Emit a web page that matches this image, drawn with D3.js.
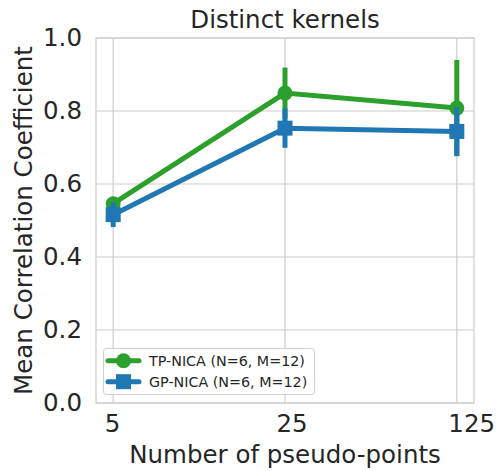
<!DOCTYPE html>
<html><head><meta charset="utf-8">
<script src="https://cdn.jsdelivr.net/npm/d3@7"></script>
<style>body{margin:0;background:#fff}</style>
</head><body>
<script>
const categories = [5, 25, 125];
const tpMean = [0.546, 0.849, 0.808];
const tpLo = [0.530, 0.779, 0.676];
const tpHi = [0.562, 0.919, 0.940];
const gpMean = [0.516, 0.753, 0.744];
const gpLo = [0.482, 0.699, 0.677];
const gpHi = [0.550, 0.807, 0.811];
const yTicks = [0, 0.2, 0.4, 0.6, 0.8, 1.0];
const seriesNames = ["TP-NICA (N=6, M=12)", "GP-NICA (N=6, M=12)"];

const W = 498, H = 471;
const L = 96, R = 474, T = 38, B = 403;
const svg = d3.select("body").append("svg").attr("width", W).attr("height", H)
  .style("font-family", "DejaVu Sans");

const lp = Math.log(5)*0.1;
const x = d3.scaleLog().domain([5/Math.exp(lp), 125*Math.exp(lp)]).range([L, R]);
const y = d3.scaleLinear().domain([0, 1]).range([B, T]);

const grid = "#cccccc", txt = "#262626";
const fs = "24.5px";
// grid
svg.append("g").selectAll("line").data(yTicks).join("line")
  .attr("x1", L).attr("x2", R).attr("y1", d=>y(d)).attr("y2", d=>y(d))
  .attr("stroke", grid).attr("stroke-width", 1.2);
svg.append("g").selectAll("line").data(categories).join("line")
  .attr("y1", T).attr("y2", B).attr("x1", d=>x(d)).attr("x2", d=>x(d))
  .attr("stroke", grid).attr("stroke-width", 1.2);
svg.append("rect").attr("x", L).attr("y", T).attr("width", R-L).attr("height", B-T)
  .attr("fill", "none").attr("stroke", grid).attr("stroke-width", 1.2);

// axes
const yAx = svg.append("g").attr("transform", `translate(${L},0)`)
  .call(d3.axisLeft(y).tickValues(yTicks).tickFormat(d3.format(".1f")).tickSize(0).tickPadding(14));
const xAx = svg.append("g").attr("transform", `translate(0,${B})`)
  .call(d3.axisBottom(x).tickValues(categories).tickFormat(d=>String(d)).tickSize(0).tickPadding(12));
[yAx, xAx].forEach(g => {
  g.select(".domain").remove();
  g.selectAll("text").attr("fill", txt).style("font-size", fs).style("font-family", "DejaVu Sans");
});
// x tick labels in the reference start just left of each gridline
xAx.selectAll("text").attr("text-anchor", "start").attr("x", -9);

svg.append("text").attr("x", (L+R)/2).attr("y", 27.5).attr("text-anchor", "middle")
  .attr("fill", txt).style("font-size", fs).text("Distinct kernels");
svg.append("text").attr("x", (L+R)/2).attr("y", 463).attr("text-anchor", "middle")
  .attr("fill", txt).style("font-size", fs).text("Number of pseudo-points");
svg.append("text").attr("transform", `translate(32,${(T+B)/2}) rotate(-90)`).attr("text-anchor", "middle")
  .attr("fill", txt).style("font-size", fs).text("Mean Correlation Coefficient");

const green = "#2ca02c", blue = "#1f77b4";
const line = d3.line().x(d=>x(d[0])).y(d=>y(d[1]));

function drawSeries(mean, lo, hi, color, marker) {
  const g = svg.append("g");
  g.selectAll("line.err").data(categories).join("line").attr("class","err")
    .attr("x1", d=>x(d)).attr("x2", d=>x(d))
    .attr("y1", (d,i)=>y(lo[i])).attr("y2", (d,i)=>y(hi[i]))
    .attr("stroke", color).attr("stroke-width", 5);
  g.append("path").attr("d", line(categories.map((c,i)=>[c, mean[i]])))
    .attr("fill", "none").attr("stroke", color).attr("stroke-width", 5);
  if (marker === "circle") {
    g.selectAll("circle").data(categories).join("circle")
      .attr("cx", d=>x(d)).attr("cy", (d,i)=>y(mean[i])).attr("r", 7.5).attr("fill", color);
  } else {
    g.selectAll("rect").data(categories).join("rect")
      .attr("x", d=>x(d)-7.5).attr("y", (d,i)=>y(mean[i])-7.5).attr("width", 15).attr("height", 15).attr("fill", color);
  }
}
drawSeries(tpMean, tpLo, tpHi, green, "circle");
drawSeries(gpMean, gpLo, gpHi, blue, "square");

// legend
const lg = svg.append("g");
lg.append("rect").attr("x", 103.5).attr("y", 348.5).attr("width", 211).attr("height", 46).attr("rx", 3)
  .attr("fill", "#fff").attr("fill-opacity", 0.8).attr("stroke", "#d0d0d0").attr("stroke-width", 1);
[[green, "circle"], [blue, "square"]].forEach(([c, m], i) => {
  const yy = 360.7 + i*21;
  lg.append("line").attr("x1", 108).attr("x2", 139).attr("y1", yy).attr("y2", yy)
    .attr("stroke", c).attr("stroke-width", 5).attr("stroke-linecap", "round");
  if (m === "circle") lg.append("circle").attr("cx", 123.5).attr("cy", yy).attr("r", 7.5).attr("fill", c);
  else lg.append("rect").attr("x", 116).attr("y", yy-7.5).attr("width", 15).attr("height", 15).attr("fill", c);
  lg.append("text").attr("x", 149).attr("y", yy+5).attr("fill", txt).style("font-size", "14.3px").text(seriesNames[i]);
});
</script>
</body></html>
